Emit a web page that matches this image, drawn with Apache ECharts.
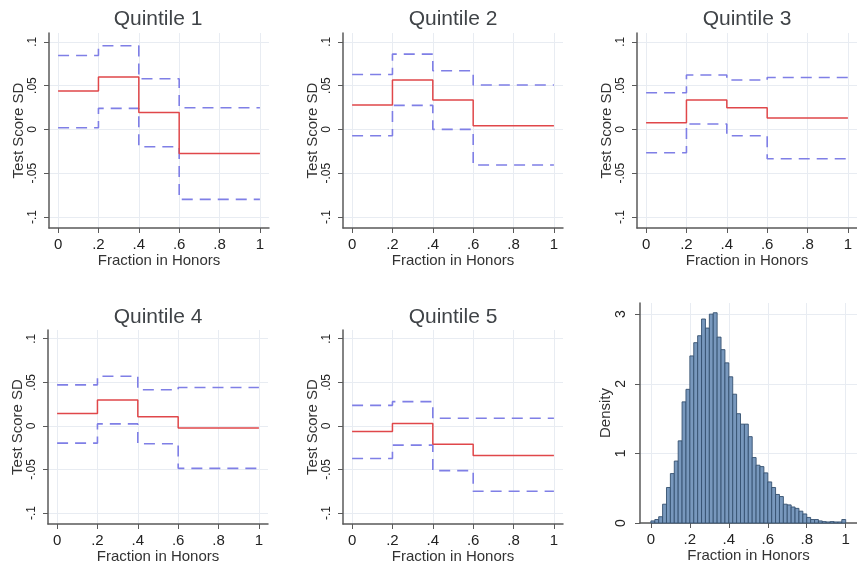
<!DOCTYPE html>
<html>
<head>
<meta charset="utf-8">
<script src="https://cdn.jsdelivr.net/npm/echarts@6/dist/echarts.min.js"></script>
<style>
  html, body { margin: 0; padding: 0; background: #ffffff; }
  #chart { width: 857px; height: 565px; }
</style>
</head>
<body>
<div id="chart"></div>
<script>
// Step estimates of test-score effects by fraction in honors, one panel per quintile
const stepEdges = [0, 0.2, 0.4, 0.6, 1];
const quintileNames = ['Quintile 1', 'Quintile 2', 'Quintile 3', 'Quintile 4', 'Quintile 5'];

const q1Estimate = [0.0437, 0.0597, 0.0194, -0.0274];
const q1Upper    = [0.0844, 0.0954, 0.0578, 0.0247];
const q1Lower    = [0.0019, 0.0240, -0.0198, -0.0798];

const q2Estimate = [0.0278, 0.0563, 0.0335, 0.0042];
const q2Upper    = [0.0627, 0.0859, 0.0669, 0.0506];
const q2Lower    = [-0.0072, 0.0274, 0.0000, -0.0407];

const q3Estimate = [0.0076, 0.0335, 0.0247, 0.0129];
const q3Upper    = [0.0418, 0.0620, 0.0563, 0.0593];
const q3Lower    = [-0.0266, 0.0061, -0.0072, -0.0335];

const q4Estimate = [0.0141, 0.0297, 0.0106, -0.0023];
const q4Upper    = [0.0471, 0.0570, 0.0414, 0.0441];
const q4Lower    = [-0.0198, 0.0023, -0.0205, -0.0487];

const q5Estimate = [-0.0065, 0.0027, -0.0209, -0.0338];
const q5Upper    = [0.0236, 0.0278, 0.0087, 0.0087];
const q5Lower    = [-0.0373, -0.0220, -0.0513, -0.0749];

// Histogram of the fraction in honors (density, bins of width 0.02 from 0 to 1)
const histBinWidth = 0.02;
const histDensity = [
  0.03, 0.05, 0.09, 0.27, 0.51, 0.71, 0.89, 1.18, 1.74, 1.92,
  2.40, 2.59, 2.69, 2.93, 2.80, 3.00, 3.02, 2.67, 2.49, 2.30,
  2.10, 1.85, 1.57, 1.42, 1.42, 1.24, 0.94, 0.83, 0.81, 0.72,
  0.59, 0.51, 0.41, 0.38, 0.27, 0.26, 0.23, 0.21, 0.17, 0.13,
  0.08, 0.05, 0.05, 0.03, 0.02, 0.015, 0.02, 0.015, 0.015, 0.05
];

// Tick values and their printed labels
const fractionTicks = [0, 0.2, 0.4, 0.6, 0.8, 1];
const fractionTickLabels = ['0', '.2', '.4', '.6', '.8', '1'];
const scoreTicks = [-0.1, -0.05, 0, 0.05, 0.1];
const scoreTickLabels = ['-.1', '-.05', '0', '.05', '.1'];
const densityTicks = [0, 1, 2, 3];
const densityTickLabels = ['0', '1', '2', '3'];

const panelSeries = [
  [q1Estimate, q1Upper, q1Lower],
  [q2Estimate, q2Upper, q2Lower],
  [q3Estimate, q3Upper, q3Lower],
  [q4Estimate, q4Upper, q4Lower],
  [q5Estimate, q5Upper, q5Lower]
];

// Panel placement (pixels)
const panelBoxes = [
  { left: 49,  top: 33,  width: 220, height: 195, titleX: 158, titleY: 19 },
  { left: 343, top: 33,  width: 220, height: 195, titleX: 453, titleY: 19 },
  { left: 637, top: 33,  width: 220, height: 195, titleX: 747, titleY: 19 },
  { left: 48,  top: 330, width: 220, height: 194, titleX: 158, titleY: 317 },
  { left: 343, top: 330, width: 220, height: 194, titleX: 453, titleY: 317 }
];
const histBox = { left: 640, top: 303, width: 219, height: 220 };

const FONT = '"Liberation Sans", Arial, sans-serif';
const AXIS_COLOR = '#5a5a5a';
const GRID_COLOR = '#e8ecf2';
const TEXT_COLOR = '#333333';

function labelFor(ticks, labels) {
  return function (v) {
    const i = ticks.findIndex(t => Math.abs(t - v) < 1e-9);
    return i >= 0 ? labels[i] : '';
  };
}

function stepData(values) {
  return stepEdges.map((x, i) => [x, values[Math.min(i, values.length - 1)]]);
}

const grids = [], xAxes = [], yAxes = [], titles = [], series = [];

function baseAxis() {
  return {
    axisLine: { show: true, onZero: false, lineStyle: { color: AXIS_COLOR, width: 1.5 } },
    axisTick: { show: true, length: 5, lineStyle: { color: AXIS_COLOR, width: 1 } },
    splitLine: { show: true, lineStyle: { color: GRID_COLOR, width: 1 } },
    splitArea: { show: false }
  };
}

panelBoxes.forEach((b, p) => {
  grids.push({ left: b.left, top: b.top, width: b.width, height: b.height, containLabel: false });
  titles.push({
    text: quintileNames[p], left: b.titleX, top: b.titleY, padding: 0,
    textAlign: 'center', textVerticalAlign: 'middle',
    textStyle: { fontFamily: FONT, fontSize: 21, fontWeight: 'normal', color: '#3f4347' }
  });
  const xa = baseAxis();
  Object.assign(xa, {
    type: 'value', gridIndex: p, min: -0.045, max: 1.045,
    name: 'Fraction in Honors', nameLocation: 'middle', nameGap: 23,
    nameTextStyle: { fontFamily: FONT, fontSize: 15, color: TEXT_COLOR }
  });
  xa.axisTick.customValues = fractionTicks;
  xa.axisLabel = {
    customValues: fractionTicks, margin: 9,
    formatter: labelFor(fractionTicks, fractionTickLabels),
    fontFamily: FONT, fontSize: 15, color: '#222'
  };
  xAxes.push(xa);

  const ya = baseAxis();
  Object.assign(ya, {
    type: 'value', gridIndex: p, min: -0.1125, max: 0.11,
    name: 'Test Score SD', nameLocation: 'middle', nameGap: 23,
    nameTextStyle: { fontFamily: FONT, fontSize: 15, color: TEXT_COLOR }
  });
  ya.axisTick.customValues = scoreTicks;
  ya.axisLabel = {
    customValues: scoreTicks, rotate: 90, margin: 10,
    formatter: labelFor(scoreTicks, scoreTickLabels),
    fontFamily: FONT, fontSize: 12, color: '#222'
  };
  yAxes.push(ya);

  const [est, up, lo] = panelSeries[p];
  [up, lo].forEach(vals => series.push({
    type: 'line', xAxisIndex: p, yAxisIndex: p, step: 'end', symbol: 'none',
    data: stepData(vals), silent: true,
    lineStyle: { color: '#7f7fe6', width: 1.6, type: [11, 7] }
  }));
  series.push({
    type: 'line', xAxisIndex: p, yAxisIndex: p, step: 'end', symbol: 'none',
    data: stepData(est), silent: true,
    lineStyle: { color: '#e0474a', width: 1.5 }
  });
});

// Histogram panel
const h = panelBoxes.length;
grids.push({ left: histBox.left, top: histBox.top, width: histBox.width, height: histBox.height });
const hx = baseAxis();
Object.assign(hx, {
  type: 'value', gridIndex: h, min: -0.056, max: 1.058,
  name: 'Fraction in Honors', nameLocation: 'middle', nameGap: 23,
  nameTextStyle: { fontFamily: FONT, fontSize: 15, color: TEXT_COLOR }
});
hx.axisTick.customValues = fractionTicks;
hx.axisLabel = {
  customValues: fractionTicks, margin: 9,
  formatter: labelFor(fractionTicks, fractionTickLabels),
  fontFamily: FONT, fontSize: 15, color: '#222'
};
xAxes.push(hx);
const hy = baseAxis();
Object.assign(hy, {
  type: 'value', gridIndex: h, min: 0, max: 3.16,
  name: 'Density', nameLocation: 'middle', nameGap: 25,
  nameTextStyle: { fontFamily: FONT, fontSize: 15, color: TEXT_COLOR }
});
hy.axisTick.customValues = densityTicks;
hy.axisLabel = {
  customValues: densityTicks, rotate: 90, margin: 12,
  formatter: labelFor(densityTicks, densityTickLabels),
  fontFamily: FONT, fontSize: 14, color: '#222'
};
yAxes.push(hy);

series.push({
  type: 'custom', xAxisIndex: h, yAxisIndex: h, silent: true,
  data: histDensity.map((d, i) => [i * histBinWidth, (i + 1) * histBinWidth, d]),
  encode: { x: [0, 1], y: 2 },
  renderItem: function (params, api) {
    const p0 = api.coord([api.value(0), api.value(2)]);
    const p1 = api.coord([api.value(1), 0]);
    return {
      type: 'rect',
      shape: { x: p0[0], y: p0[1], width: p1[0] - p0[0], height: p1[1] - p0[1] },
      style: { fill: '#7898bd', stroke: '#34506f', lineWidth: 0.9 }
    };
  }
});

const chart = echarts.init(document.getElementById('chart'), null, { renderer: 'canvas' });
chart.setOption({
  backgroundColor: '#ffffff',
  animation: false,
  title: titles,
  grid: grids,
  xAxis: xAxes,
  yAxis: yAxes,
  series: series
});
</script>
</body>
</html>
